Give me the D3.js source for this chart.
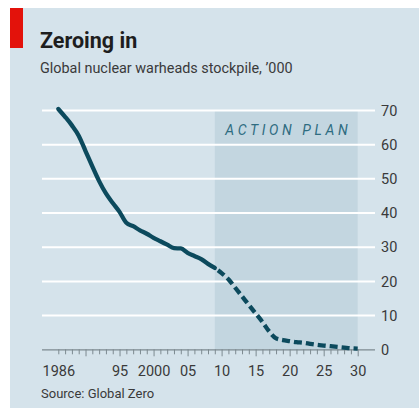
<!DOCTYPE html>
<html>
<head>
<meta charset="utf-8">
<script src="https://cdn.jsdelivr.net/npm/d3@7"></script>
<style>
  html, body { margin: 0; padding: 0; background: #fff; }
  svg { display: block; }
</style>
</head>
<body>
<div id="chart"></div>
<script>
// Global nuclear warheads stockpile, '000
const years = [1986, 1987, 1988, 1989, 1990, 1991, 1992, 1993, 1994, 1995, 1996, 1997,
               1998, 1999, 2000, 2001, 2002, 2003, 2004, 2005, 2006, 2007, 2008, 2009];
const stockpile = [70.3, 68.0, 65.5, 62.5, 58.0, 53.5, 49.2, 45.6, 42.8, 40.2, 37.0, 36.0,
                   34.8, 33.8, 32.6, 31.6, 30.6, 29.6, 29.5, 28.2, 27.3, 26.4, 25.0, 23.8];

// Action plan projection (dashed)
const planYears = [2009, 2010, 2011, 2012, 2013, 2014, 2015, 2016, 2017, 2018, 2019,
                   2020, 2021, 2022, 2023, 2024, 2025, 2026, 2027, 2028, 2029, 2030];
const planValues = [23.8, 22.3, 20.5, 18.0, 15.5, 13.0, 10.5, 8.0, 5.2, 3.2, 2.7,
                    2.4, 2.1, 1.9, 1.6, 1.3, 1.1, 0.9, 0.7, 0.5, 0.3, 0.2];

const planSpan = [2009, 2030];
const yTicks = [0, 10, 20, 30, 40, 50, 60, 70];
const xLabelYears = [1986, 1995, 2000, 2005, 2010, 2015, 2020, 2025, 2030];
const xLabels = ["1986", "95", "2000", "05", "10", "15", "20", "25", "30"];

const W = 419, H = 408;
const FONT = "Roboto, 'Open Sans', sans-serif";
const BG = "#d5e3eb";
const SHADE = "#c3d6e0";
const LINE = "#0c4a5d";
const TEXT = "#3a3a3a";

const svg = d3.select("#chart").append("svg")
  .attr("width", W)
  .attr("height", H);

// panel + red tab
svg.append("rect")
  .attr("x", 10).attr("y", 8)
  .attr("width", W - 10).attr("height", H - 8)
  .attr("fill", BG);

svg.append("rect")
  .attr("x", 10).attr("y", 8)
  .attr("width", 13).attr("height", 40)
  .attr("fill", "#e3120b");

svg.append("text")
  .attr("x", 40).attr("y", 47.5)
  .attr("fill", "#1e1e1e")
  .attr("font-family", FONT)
  .attr("font-weight", "700")
  .attr("font-size", "21.5px")
  .text("Zeroing in");

svg.append("text")
  .attr("x", 40).attr("y", 72.5)
  .attr("fill", TEXT)
  .attr("font-family", FONT)
  .attr("font-size", "14.4px")
  .text("Global nuclear warheads stockpile, \u2019000");

const x = d3.scaleLinear().domain([1986, 2030]).range([58.3, 357.7]);
const y = d3.scaleLinear().domain([0, 70]).range([349.3, 110]);
const gridLeft = 42, gridRight = 375;

// action plan shading
svg.append("rect")
  .attr("x", x(planSpan[0]))
  .attr("y", y(70))
  .attr("width", x(planSpan[1]) - x(planSpan[0]))
  .attr("height", y(0) - y(70))
  .attr("fill", SHADE);

svg.append("text")
  .attr("x", (x(planSpan[0]) + x(planSpan[1])) / 2 + 2)
  .attr("y", 134.5)
  .attr("text-anchor", "middle")
  .attr("fill", "#2e6c80")
  .attr("font-family", FONT)
  .attr("font-style", "italic")
  .attr("font-size", "14px")
  .attr("letter-spacing", "3.6px")
  .text("ACTION PLAN");

// y axis: gridlines + labels on the right
const yAxisG = svg.append("g")
  .attr("transform", `translate(${gridLeft},0)`)
  .call(d3.axisRight(y)
    .tickValues(yTicks)
    .tickSize(gridRight - gridLeft)
    .tickPadding(6));

yAxisG.select(".domain").remove();
yAxisG.selectAll(".tick line")
  .attr("stroke", d => d === 0 ? "#7d8a90" : "#fff")
  .attr("stroke-width", d => d === 0 ? 1.2 : 2);
yAxisG.selectAll(".tick text")
  .attr("fill", TEXT)
  .attr("font-family", FONT)
  .attr("font-size", "14.5px")
  .attr("dy", "0.36em");

// x axis: yearly ticks below the baseline
const allYears = d3.range(1986, 2031);
const xAxisG = svg.append("g")
  .attr("transform", `translate(0,${y(0)})`)
  .call(d3.axisBottom(x)
    .tickValues(allYears)
    .tickSize(5)
    .tickPadding(11)
    .tickFormat(d => {
      const i = xLabelYears.indexOf(d);
      return i >= 0 ? xLabels[i] : "";
    }));

xAxisG.select(".domain").remove();
xAxisG.selectAll(".tick line")
  .attr("stroke", "#7d8a90")
  .attr("y2", d => (d % 5 === 0) ? 7 : 5);
xAxisG.selectAll(".tick text")
  .attr("fill", TEXT)
  .attr("font-family", FONT)
  .attr("font-size", "14.5px");

// series
const lineFn = d3.line()
  .x(d => x(d[0]))
  .y(d => y(d[1]))
  .curve(d3.curveMonotoneX);

svg.append("path")
  .datum(years.map((yr, i) => [yr, stockpile[i]]))
  .attr("d", lineFn)
  .attr("fill", "none")
  .attr("stroke", LINE)
  .attr("stroke-width", 4.3)
  .attr("stroke-linejoin", "round")
  .attr("stroke-linecap", "round");

svg.append("path")
  .datum(planYears.map((yr, i) => [yr, planValues[i]]))
  .attr("d", lineFn)
  .attr("fill", "none")
  .attr("stroke", LINE)
  .attr("stroke-width", 4.3)
  .attr("stroke-dasharray", "8,4")
  .attr("stroke-dashoffset", -4);

svg.append("text")
  .attr("x", 41).attr("y", 398)
  .attr("fill", TEXT)
  .attr("font-family", FONT)
  .attr("font-size", "13px")
  .text("Source: Global Zero");
</script>
</body>
</html>
